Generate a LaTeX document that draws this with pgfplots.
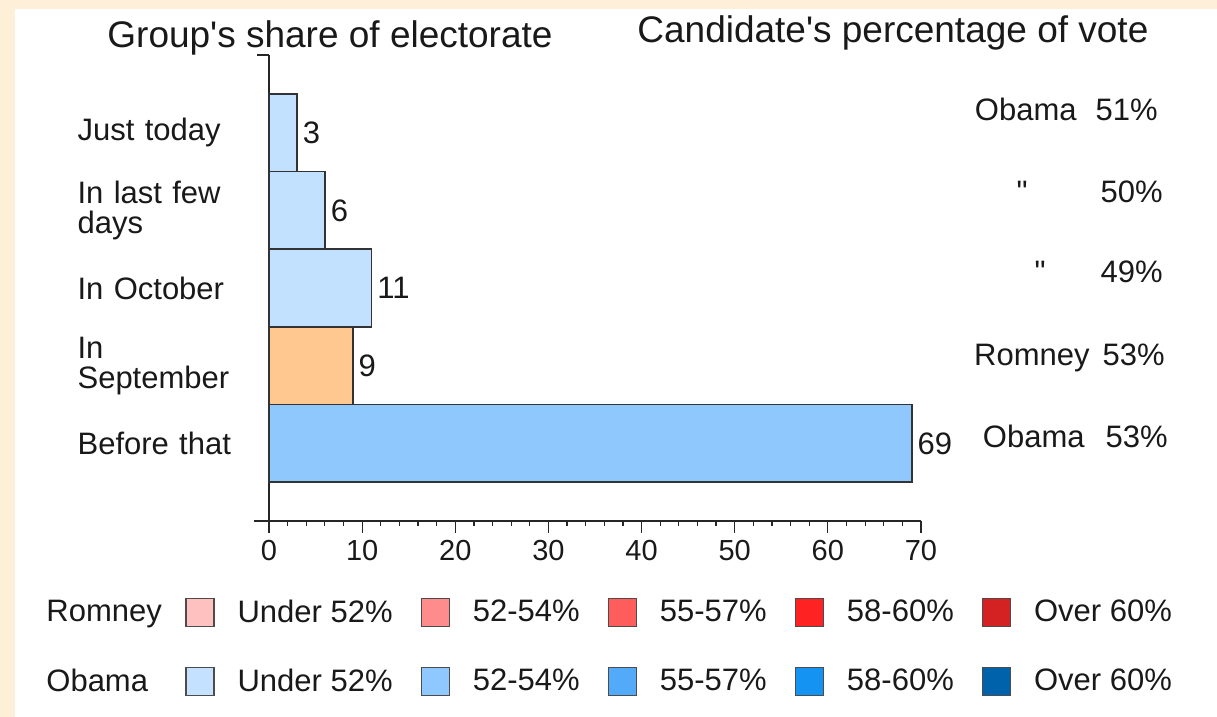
\documentclass[border=0pt]{standalone}
\usepackage{fontspec}
\setmainfont{Liberation Sans}
\usepackage{pgfplots}
\pgfplotsset{compat=1.18}
\definecolor{beige}{HTML}{FEF0D8}
\definecolor{lightblue}{HTML}{C2E0FF}
\definecolor{midblue}{HTML}{8FC8FD}
\definecolor{orangec}{HTML}{FFC890}
\definecolor{rA}{HTML}{FFC0C0}
\definecolor{rB}{HTML}{FF8C8C}
\definecolor{rC}{HTML}{FF5C5C}
\definecolor{rD}{HTML}{FF2222}
\definecolor{rE}{HTML}{D42222}
\definecolor{bA}{HTML}{C4E2FF}
\definecolor{bB}{HTML}{8EC8FF}
\definecolor{bC}{HTML}{52AAF8}
\definecolor{bD}{HTML}{1493F2}
\definecolor{bE}{HTML}{0062AA}
\newcommand\lbl{\fontsize{15.5}{15}\selectfont}
\newcommand\ttl{\fontsize{18.5}{20}\selectfont}
\newcommand\tck{\fontsize{14.5}{16}\selectfont}
\begin{document}
\begin{tikzpicture}
\fill[beige] (-134.5pt,-98pt) rectangle (474pt,260.5pt);
\fill[white] (-127pt,-98pt) rectangle (474pt,256pt);
\begin{axis}[
  at={(0,0)}, anchor=south west, scale only axis,
  width=326pt, height=233pt,
  xmin=0, xmax=70, ymin=-1, ymax=5,
  clip=false,
  axis x line=bottom, axis y line=left,
  axis line style={-, line width=0.75pt, black!85},
  x axis line style={shorten <=-7.5pt},
  xtick={0,10,...,70}, minor x tick num=4,
  tick align=outside,
  major tick length=6pt, minor tick length=2.5pt,
  tick style={black!85, line width=0.6pt},
  ytick={0,1,2,3,4},
  yticklabels={Before that, {In\\September}, In October, {In last few\\days}, Just today},
  ytick style={draw=none},
  yticklabel style={font=\lbl, inner sep=0pt, text width=95.5pt, align=left, xshift=6pt, text=black!90},
  xticklabel style={font=\tck, text=black!90},
  /pgf/number format/assume math mode=true,
  legend columns=6,
  legend cell align=left,
  legend style={draw=none, fill=none, inner sep=0pt,
    at={(axis cs:-26.41,-1.983)}, anchor=north west,
    font=\lbl, text=black!90, nodes={inner sep=0pt},
    /tikz/every odd column/.style={column sep=11.5pt},
    /tikz/every even column/.style={column sep=14pt},
    row sep=20pt},
  legend image code/.code={\draw[#1, line width=0.6pt] (0pt,-7pt) rectangle (14pt,7pt);},
  every node near coord/.append style={anchor=west, inner sep=0pt, xshift=2.5pt, font=\lbl, text=black!90},
]
\addplot[xbar, bar width=38.833pt, bar shift=0pt, fill=lightblue, draw=black!80, line width=0.9pt, nodes near coords, forget plot]
  coordinates {(3,4) (6,3) (11,2)};
\addplot[xbar, bar width=38.833pt, bar shift=0pt, fill=orangec, draw=black!80, line width=0.9pt, nodes near coords, forget plot]
  coordinates {(9,1)};
\addplot[xbar, bar width=38.833pt, bar shift=0pt, fill=midblue, draw=black!80, line width=0.9pt, nodes near coords, forget plot]
  coordinates {(69,0)};

\addlegendimage{empty legend}\addlegendentry{\makebox[55.5pt][l]{Romney}}
\addlegendimage{fill=rA, draw=black!70}\addlegendentry{Under 52\%}
\addlegendimage{fill=rB, draw=black!70}\addlegendentry{52-54\%}
\addlegendimage{fill=rC, draw=black!70}\addlegendentry{55-57\%}
\addlegendimage{fill=rD, draw=black!70}\addlegendentry{58-60\%}
\addlegendimage{fill=rE, draw=black!70}\addlegendentry{Over 60\%}
\addlegendimage{empty legend}\addlegendentry{\makebox[55.5pt][l]{Obama}}
\addlegendimage{fill=bA, draw=black!70}\addlegendentry{Under 52\%}
\addlegendimage{fill=bB, draw=black!70}\addlegendentry{52-54\%}
\addlegendimage{fill=bC, draw=black!70}\addlegendentry{55-57\%}
\addlegendimage{fill=bD, draw=black!70}\addlegendentry{58-60\%}
\addlegendimage{fill=bE, draw=black!70}\addlegendentry{Over 60\%}

\draw[black!85, line width=0.6pt] (axis cs:0,5) -- ++(-6pt,0pt);

\node[anchor=base west, font=\ttl, inner sep=0pt, text=black!90] at (axis cs:-17.39,5.099) {Group\textquotesingle s share of electorate};
\node[anchor=base west, font=\ttl, inner sep=0pt, text=black!90] at (axis cs:39.51,5.163) {Candidate\textquotesingle s percentage of vote};

\node[anchor=base east, font=\lbl, inner sep=0pt, text=black!90] at (axis cs:86.75,4.159) {Obama};
\node[anchor=base east, font=\lbl, inner sep=0pt, text=black!90] at (axis cs:95.45,4.159) {51\%};
\node[anchor=base east, font=\lbl, inner sep=0pt, text=black!90] at (axis cs:81.49,3.103) {\textquotedbl};
\node[anchor=base east, font=\lbl, inner sep=0pt, text=black!90] at (axis cs:95.98,3.103) {50\%};
\node[anchor=base east, font=\lbl, inner sep=0pt, text=black!90] at (axis cs:83.42,2.073) {\textquotedbl};
\node[anchor=base east, font=\lbl, inner sep=0pt, text=black!90] at (axis cs:95.98,2.073) {49\%};
\node[anchor=base east, font=\lbl, inner sep=0pt, text=black!90] at (axis cs:88.15,1.004) {Romney};
\node[anchor=base east, font=\lbl, inner sep=0pt, text=black!90] at (axis cs:96.20,1.004) {53\%};
\node[anchor=base east, font=\lbl, inner sep=0pt, text=black!90] at (axis cs:87.61,-0.0515) {Obama};
\node[anchor=base east, font=\lbl, inner sep=0pt, text=black!90] at (axis cs:96.52,-0.0515) {53\%};
\end{axis}
\pgfresetboundingbox
\useasboundingbox (-134.5pt,-98pt) rectangle (474pt,260.5pt);
\end{tikzpicture}
\end{document}
